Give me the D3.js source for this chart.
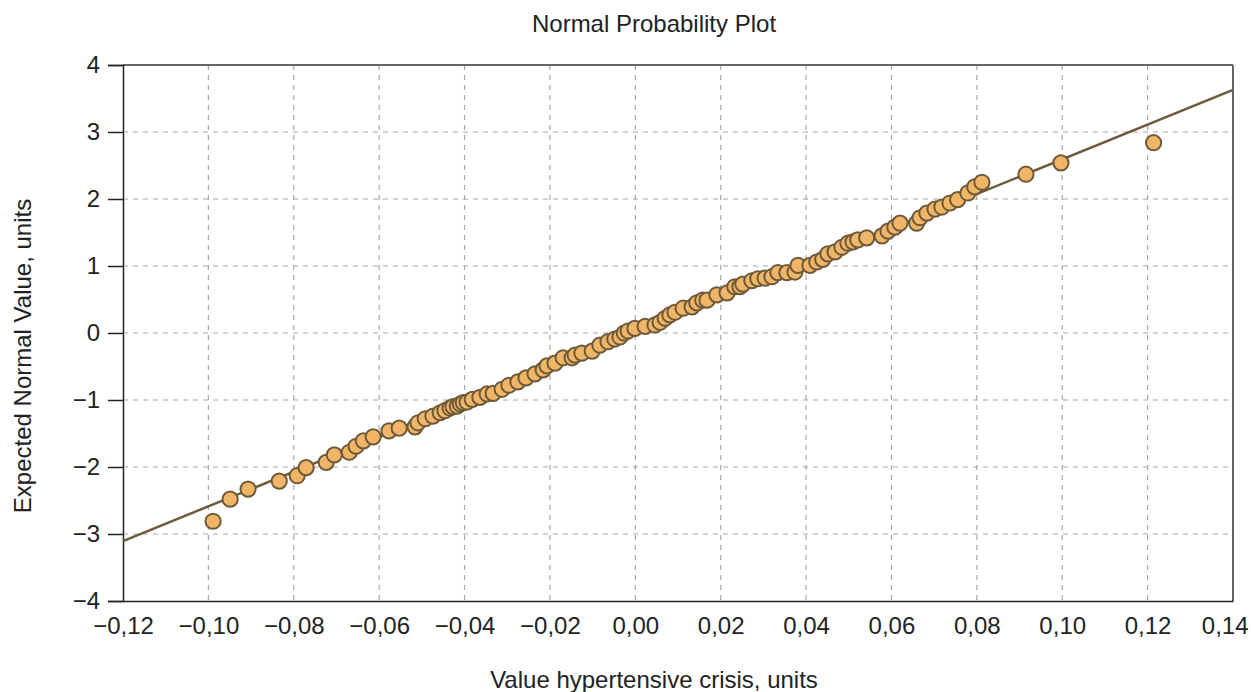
<!DOCTYPE html>
<html>
<head>
<meta charset="utf-8">
<script src="https://cdn.jsdelivr.net/npm/d3@7"></script>
<style>
  html, body { margin: 0; padding: 0; background: #fff; }
  svg { display: block; font-family: "Liberation Sans", Arial, sans-serif; }
</style>
</head>
<body>
<div id="chart"></div>
<script>
const observedValues = [
  -0.0989, -0.0949, -0.0907, -0.0834, -0.0792, -0.0771, -0.0724, -0.0705, -0.0670, -0.0654,
  -0.0637, -0.0614, -0.0577, -0.0553, -0.0516, -0.0509, -0.0492, -0.0474, -0.0457, -0.0446,
  -0.0434, -0.0427, -0.0417, -0.0410, -0.0403, -0.0394, -0.0382, -0.0364, -0.0347, -0.0333,
  -0.0312, -0.0296, -0.0275, -0.0256, -0.0235, -0.0216, -0.0207, -0.0188, -0.0169, -0.0148,
  -0.0141, -0.0125, -0.0101, -0.0083, -0.0064, -0.0048, -0.0036, -0.0026, -0.0017, -0.0001,
  0.0023, 0.0046, 0.0058, 0.0070, 0.0081, 0.0093, 0.0112, 0.0133, 0.0144, 0.0158,
  0.0168, 0.0191, 0.0215, 0.0233, 0.0245, 0.0252, 0.0273, 0.0287, 0.0304, 0.0320,
  0.0334, 0.0355, 0.0374, 0.0381, 0.0409, 0.0425, 0.0439, 0.0451, 0.0468, 0.0484,
  0.0498, 0.0510, 0.0521, 0.0542, 0.0578, 0.0592, 0.0608, 0.0620, 0.0659, 0.0667,
  0.0683, 0.0702, 0.0718, 0.0737, 0.0755, 0.0779, 0.0795, 0.0812, 0.0915, 0.0997,
  0.1214
];

// Expected normal values for each observation
const expectedValues = [
  -2.81, -2.48, -2.33, -2.21, -2.13, -2.01, -1.93, -1.82, -1.78, -1.69,
  -1.61, -1.55, -1.46, -1.42, -1.40, -1.34, -1.28, -1.24, -1.19, -1.16,
  -1.12, -1.10, -1.09, -1.06, -1.04, -1.03, -0.99, -0.96, -0.91, -0.90,
  -0.84, -0.78, -0.73, -0.67, -0.61, -0.55, -0.49, -0.45, -0.37, -0.37,
  -0.33, -0.30, -0.27, -0.18, -0.13, -0.09, -0.06, 0.00, 0.03, 0.07,
  0.10, 0.12, 0.16, 0.22, 0.27, 0.31, 0.37, 0.39, 0.45, 0.49,
  0.49, 0.57, 0.60, 0.69, 0.69, 0.73, 0.78, 0.81, 0.82, 0.84,
  0.90, 0.90, 0.91, 1.01, 1.01, 1.06, 1.10, 1.18, 1.21, 1.28,
  1.34, 1.36, 1.39, 1.42, 1.45, 1.52, 1.58, 1.64, 1.64, 1.72,
  1.79, 1.85, 1.88, 1.94, 1.99, 2.09, 2.18, 2.25, 2.37, 2.54,
  2.84
];

// Reference line (expected = slope * value + intercept)
const lineSlope = 25.9;
const lineIntercept = 0.003;

const xTicks = [-0.12, -0.10, -0.08, -0.06, -0.04, -0.02, 0, 0.02, 0.04, 0.06, 0.08, 0.10, 0.12, 0.14];
const yTicks = [-4, -3, -2, -1, 0, 1, 2, 3, 4];

const totalWidth = 1251, totalHeight = 692;
const margin = { top: 65, right: 18, bottom: 91, left: 123 };
const width = totalWidth - margin.left - margin.right;
const height = totalHeight - margin.top - margin.bottom;
const fontSize = 24;

const svg = d3.select('#chart').append('svg')
  .attr('width', totalWidth)
  .attr('height', totalHeight);

const g = svg.append('g')
  .attr('transform', `translate(${margin.left},${margin.top})`);

const x = d3.scaleLinear().domain([-0.12, 0.14]).range([0, width]);
const y = d3.scaleLinear().domain([-4, 4]).range([height, 0]);

const fmtX = d => (d < -1e-9 ? '\u2212' : '') + Math.abs(d).toFixed(2).replace('.', ',');
const fmtY = d => (d < 0 ? '\u2212' : '') + Math.abs(d);

// grid
g.append('g').selectAll('line')
  .data(xTicks.slice(1, -1))
  .join('line')
  .attr('x1', d => x(d)).attr('x2', d => x(d))
  .attr('y1', 0).attr('y2', height)
  .attr('stroke', '#a8a8a8').attr('stroke-width', 1.2)
  .attr('stroke-dasharray', '5,5');

g.append('g').selectAll('line')
  .data(yTicks.slice(1, -1))
  .join('line')
  .attr('x1', 0).attr('x2', width)
  .attr('y1', d => y(d)).attr('y2', d => y(d))
  .attr('stroke', '#a8a8a8').attr('stroke-width', 1.2)
  .attr('stroke-dasharray', '5,5');

// frame: top and right
g.append('line').attr('x1', 0).attr('x2', width).attr('y1', 0).attr('y2', 0)
  .attr('stroke', '#666').attr('stroke-width', 2);
g.append('line').attr('x1', width).attr('x2', width).attr('y1', 0).attr('y2', height)
  .attr('stroke', '#666').attr('stroke-width', 2);

// y axis
const yAxis = g.append('g')
  .call(d3.axisLeft(y).tickValues(yTicks).tickSize(15).tickPadding(8).tickFormat(fmtY));
yAxis.select('.domain').attr('stroke', '#222').attr('stroke-width', 1.5);
yAxis.selectAll('.tick line').attr('stroke', '#222').attr('stroke-width', 1.5);
yAxis.selectAll('.tick text')
  .attr('font-size', fontSize).attr('fill', '#222')
  .attr('font-family', '"Liberation Sans", Arial, sans-serif');

// x axis
const xAxis = g.append('g')
  .attr('transform', `translate(0,${height})`)
  .call(d3.axisBottom(x).tickValues(xTicks).tickSize(0).tickPadding(16).tickFormat(fmtX));
xAxis.select('.domain').attr('stroke', '#222').attr('stroke-width', 1.5);
xAxis.selectAll('.tick text')
  .attr('font-size', fontSize).attr('fill', '#222')
  .attr('font-family', '"Liberation Sans", Arial, sans-serif');
// keep the last label inside the picture
xAxis.selectAll('.tick text')
  .filter(d => d === xTicks[xTicks.length - 1])
  .attr('text-anchor', 'end')
  .attr('x', 15);

// reference line
const xd = x.domain();
g.append('line')
  .attr('x1', x(xd[0])).attr('y1', y(lineSlope * xd[0] + lineIntercept))
  .attr('x2', x(xd[1])).attr('y2', y(lineSlope * xd[1] + lineIntercept))
  .attr('stroke', '#6e5a3a').attr('stroke-width', 2.5);

// points
g.append('g').selectAll('circle')
  .data(observedValues.map((v, i) => ({ v, e: expectedValues[i] })))
  .join('circle')
  .attr('cx', d => x(d.v))
  .attr('cy', d => y(d.e))
  .attr('r', 7.6)
  .attr('fill', '#f0b566')
  .attr('stroke', '#6e5a3a')
  .attr('stroke-width', 2);

// titles
svg.append('text')
  .attr('x', 654).attr('y', 32)
  .attr('text-anchor', 'middle')
  .attr('font-size', fontSize).attr('fill', '#222')
  .text('Normal Probability Plot');

svg.append('text')
  .attr('x', 654).attr('y', 688)
  .attr('text-anchor', 'middle')
  .attr('font-size', fontSize).attr('fill', '#222')
  .text('Value hypertensive crisis, units');

svg.append('text')
  .attr('transform', 'translate(31,356) rotate(-90)')
  .attr('text-anchor', 'middle')
  .attr('font-size', fontSize).attr('fill', '#222')
  .text('Expected Normal Value, units');
</script>
</body>
</html>
